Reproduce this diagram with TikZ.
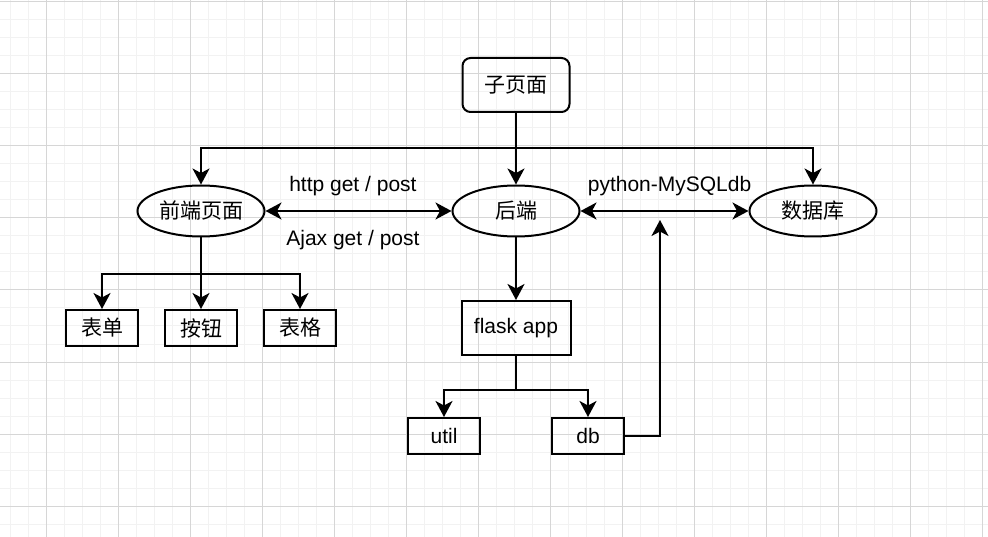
\documentclass[tikz,border=0pt]{standalone}
\usepackage{fontspec}
\setmainfont{Liberation Sans}
\newfontfamily\cjk{Noto Sans CJK SC}
\usetikzlibrary{arrows.meta}
\usetikzlibrary{shapes.geometric}
\definecolor{gridminor}{HTML}{F2F2F2}
\definecolor{gridmajor}{HTML}{D6D6D6}
\tikzstyle{page} = [
  draw,
  rectangle,
  rounded corners=8pt,
  minimum width=107pt,
  minimum height=54pt,
]
\tikzstyle{layer} = [
  draw,
  ellipse,
  inner sep=2pt,
  minimum width=127pt,
  minimum height=51pt,
]
\tikzstyle{app} = [
  draw,
  rectangle,
  minimum width=109pt,
  minimum height=54pt,
]
\tikzstyle{widget} = [
  draw,
  rectangle,
  minimum width=72pt,
  minimum height=36pt,
]
\tikzstyle{zh} = [
  font=\cjk,
]
\tikzstyle{minor} = [
  draw=gridminor,
  line width=1pt,
]
\tikzstyle{major} = [
  draw=gridmajor,
  line width=1pt,
]
\tikzstyle{label} = [
  inner sep=2pt,
]

\begin{document}
\fontsize{21}{25}\selectfont
\begin{tikzpicture}[
    auto,
    x=1pt,
    y=-1pt,
    line width=2pt,
    >={Stealth[length=16pt,width=17pt,inset=4.5pt]},
  ]
  \useasboundingbox (0,0) rectangle (988,537);
  % background grid
  \foreach \x in {10,28,...,982}
    \path[minor] (\x,0) -- (\x,537);
  \foreach \y in {2,20,...,530}
    \path[minor] (0,\y) -- (988,\y);
  \foreach \x in {46,118,...,982}
    \path[major] (\x,0) -- (\x,537);
  \foreach \y in {2,74,...,506}
    \path[major] (0,\y) -- (988,\y);
  % nodes
  \node[page, zh] (subpage) at (516,85) {子页面};
  \node[layer, zh] (frontend) at (201,211) {前端页面};
  \node[layer, zh] (backend) at (516,211) {后端};
  \node[layer, zh] (database) at (813,211) {数据库};
  \node[widget, zh] (form) at (102,328) {表单};
  \node[widget, zh] (button) at (201,328) {按钮};
  \node[widget, zh] (table) at (300,328) {表格};
  \node[app] (flask) at (516,328) {flask app};
  \node[widget] (util) at (444,436) {util};
  \node[widget] (db) at (588,436) {db};
  \coordinate (pagesplit) at (516,148);
  \coordinate (frontsplit) at (201,274);
  \coordinate (flasksplit) at (516,390);
  \coordinate (dbup) at (660,220);
  % connectors
  \path [->] (subpage) edge (backend);
  \draw [->] (subpage.south) -- (pagesplit) -| (frontend.north);
  \draw [->] (pagesplit) -| (database.north);
  \path [<->] (frontend) edge
    node[label, pos=0.47, above=12pt] {http get / post}
    node[label, pos=0.47, below=16pt] {Ajax get / post}
    (backend);
  \path [<->] (backend) edge
    node[label, pos=0.53, above=12pt] {python-MySQLdb}
    (database);
  \path [->] (frontend) edge (button);
  \draw [->] (frontend.south) -- (frontsplit) -| (form.north);
  \draw [->] (frontsplit) -| (table.north);
  \path [->] (backend) edge (flask);
  \draw [->] (flask.south) -- (flasksplit) -| (util.north);
  \draw [->] (flasksplit) -| (db.north);
  \draw [->] (db.east) -| (dbup);
\end{tikzpicture}
\end{document}
